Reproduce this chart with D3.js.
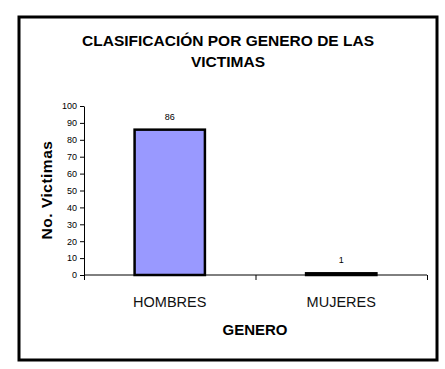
<!DOCTYPE html>
<html><head><meta charset="utf-8">
<script src="https://cdn.jsdelivr.net/npm/d3@7"></script>
<style>body{margin:0;background:#fff;}svg{display:block;}</style>
</head><body>
<svg id="c" width="445" height="369"></svg>
<script>
const categories = ["HOMBRES", "MUJERES"];
const values = [86, 1];
const yTicks = [0,10,20,30,40,50,60,70,80,90,100];
const titleLines = ["CLASIFICACIÓN POR GENERO DE LAS", "VICTIMAS"];
const xTitle = "GENERO";
const yTitle = "No. Victimas";

const svg = d3.select("#c");
svg.append("rect").attr("x",19).attr("y",17).attr("width",418).attr("height",343)
  .attr("fill","#fff").attr("stroke","#000").attr("stroke-width",3);

const x = d3.scaleBand().domain(categories).range([84,427]).paddingInner(0.59).paddingOuter(0.295);
const y = d3.scaleLinear().domain([0,100]).range([275,106]);

svg.selectAll("text.t").data(titleLines).join("text").attr("class","t")
  .attr("x",228).attr("y",(d,i)=>46+i*20.5).attr("text-anchor","middle")
  .attr("font-family","Liberation Sans, Arial").attr("font-weight","bold").attr("font-size",15.5)
  .attr("fill","#000").text(d=>d);

const ya = svg.append("g").attr("transform","translate(84,0)")
  .call(d3.axisLeft(y).tickValues(yTicks).tickSize(4).tickPadding(3).tickSizeOuter(0));
ya.select(".domain").attr("stroke","#000");
ya.selectAll("text").attr("font-family","Liberation Sans Narrow, Arial Narrow, Liberation Sans").attr("font-size",9).attr("fill","#000");

svg.selectAll("rect.bar").data(values).join("rect").attr("class","bar")
  .attr("x",(d,i)=>x(categories[i])).attr("width",x.bandwidth())
  .attr("y",d=>y(d)).attr("height",d=>y(0)-y(d))
  .attr("fill","#9999ff").attr("stroke","#000").attr("stroke-width",2.5);

const xa = svg.append("g").attr("transform","translate(0,275)")
  .call(d3.axisBottom(d3.scaleLinear().domain([0,2]).range([84,427])).ticks(2).tickSize(5).tickFormat(""));
xa.select(".domain").attr("d","M84,0H427");
xa.selectAll("line").attr("stroke","#000");

svg.selectAll("text.cat").data(categories).join("text").attr("class","cat")
  .attr("x",d=>x(d)+x.bandwidth()/2).attr("y",307).attr("text-anchor","middle")
  .attr("font-family","Liberation Sans, Arial").attr("font-size",14.5).attr("fill","#111").text(d=>d);

svg.selectAll("text.v").data(values).join("text").attr("class","v")
  .attr("x",(d,i)=>x(categories[i])+x.bandwidth()/2).attr("y",d=>y(d)-10).attr("text-anchor","middle")
  .attr("font-family","Liberation Sans Narrow, Arial Narrow, Liberation Sans").attr("font-size",9).attr("fill","#000").text(d=>d);

svg.append("text").attr("x",255).attr("y",335).attr("text-anchor","middle")
  .attr("font-family","Liberation Sans, Arial").attr("font-weight","bold").attr("font-size",15).text(xTitle);

svg.append("text").attr("transform","translate(52,190) rotate(-90)").attr("text-anchor","middle")
  .attr("font-family","Liberation Sans, Arial").attr("font-weight","bold").attr("font-size",15.5)
  .attr("letter-spacing",0.5).text(yTitle);
</script>
</body></html>
